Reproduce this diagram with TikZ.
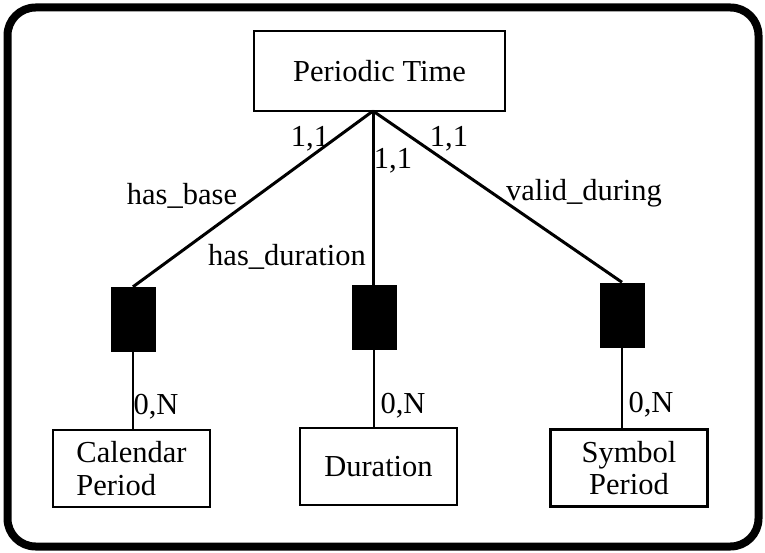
\documentclass[tikz,border=0pt]{standalone}
\usepackage{fontspec}
\setmainfont{Liberation Serif}
\begin{document}
\begin{tikzpicture}[x=1pt,y=-1pt,
  ent/.style={draw, line width=2.2pt, minimum width=157pt, minimum height=77pt, inner sep=0pt, font=\fontsize{30.5}{32.5}\selectfont},
  rel/.style={fill=black, minimum width=45pt, minimum height=65pt, inner sep=0pt},
  conn/.style={line width=3pt},
  conn2/.style={line width=2.4pt},
  lab/.style={font=\fontsize{30.5}{32.5}\selectfont, inner sep=0pt}]
\useasboundingbox (0,0) rectangle (765,553);
\draw[line width=8pt, rounded corners=28pt] (7.5,7.5) rectangle (758.5,546.5);
\node[ent, minimum width=251pt, minimum height=80pt] (pt) at (379.5,71) {Periodic Time};
\coordinate (apex) at (373,111);
\node[rel] (r1) at (133,319.5) {};
\node[rel] (r2) at (374,317.5) {};
\node[rel] (r3) at (622,315) {};
\node[ent, align=left] (cal) at (131.5,468.5) {Calendar\\Period};
\node[ent] (dur) at (378.5,466.5) {Duration};
\node[ent, align=center] (sym) at (629,468) {Symbol\\Period};
\draw[conn] (apex) -- (r1.north);
\draw[conn] (apex) -- (apex |- r2.north);
\draw[conn] (apex) -- (r3.north);
\draw[conn2] (r1.south) -- (r1.south |- cal.north);
\draw[conn2] (r2.south) -- (r2.south |- dur.north);
\draw[conn2] (r3.south) -- (r3.south |- sym.north);
\node[lab] (c1) at (310,139) {1,1};
\node[lab] (c2) at (393,161) {1,1};
\node[lab] (c3) at (449,139) {1,1};
\node[lab] (n1) at (182,196) {has\_base};
\node[lab] (n2) at (287,257) {has\_duration};
\node[lab] (n3) at (584,193) {valid\_during};
\node[lab] (o1) at (156,407) {0,N};
\node[lab] (o2) at (403,406) {0,N};
\node[lab] (o3) at (651,405) {0,N};
\end{tikzpicture}
\end{document}
